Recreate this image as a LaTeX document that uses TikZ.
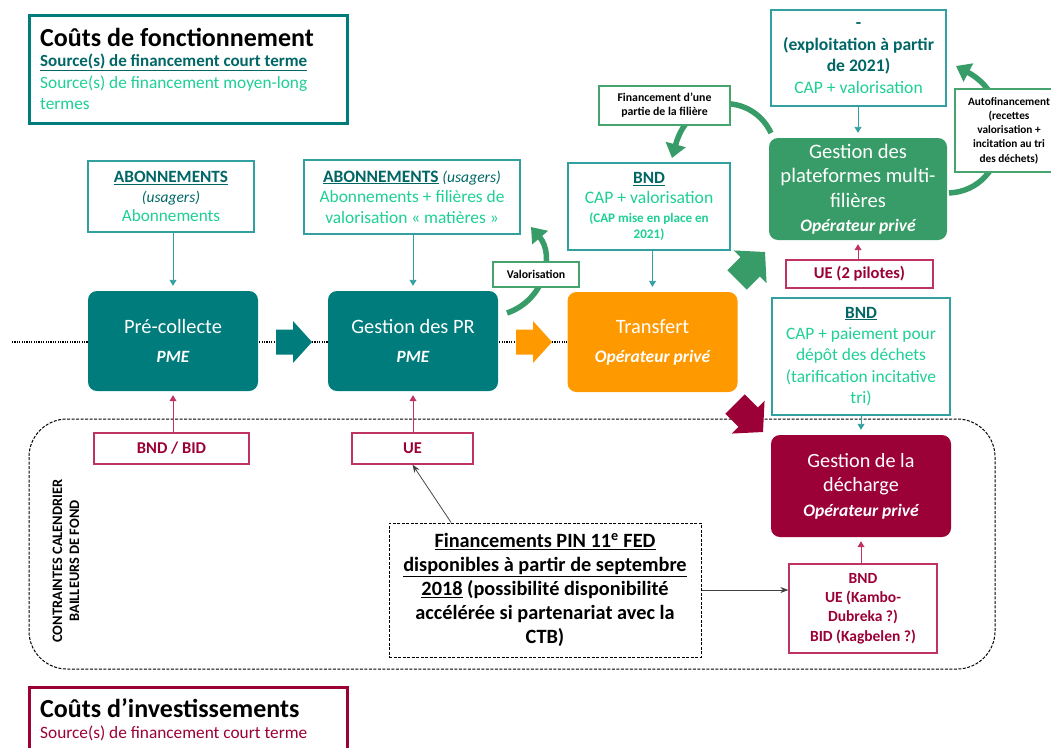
\documentclass[tikz,border=0pt]{standalone}
\usepackage{fontspec}
\setmainfont{Carlito}
\usetikzlibrary{arrows.meta,calc}
\definecolor{tealfill}{RGB}{0,124,124}
\definecolor{tealdark}{RGB}{0,102,102}
\definecolor{tealline}{RGB}{50,160,160}
\definecolor{lgreen}{RGB}{30,208,150}
\definecolor{gfill}{RGB}{56,156,104}
\definecolor{gline}{RGB}{70,165,110}
\definecolor{crim}{RGB}{155,0,55}
\definecolor{crimline}{RGB}{190,50,100}
\definecolor{orng}{RGB}{255,153,0}
\newcommand\fs[2]{\fontsize{#1}{#2}\selectfont}
\newcommand\blockarrow[5]{\fill[#4, shift={(#1,#2)}, rotate=#3, scale=#5] (-18,-12.5) -- (-1,-12.5) -- (-1,-21) -- (18,0) -- (-1,21) -- (-1,12.5) -- (-18,12.5) -- cycle;}
\begin{document}
\begin{tikzpicture}[x=1pt,y=-1pt,
  srcbox/.style={draw=tealline, line width=1.3pt, fill=white, align=center, inner sep=0pt},
  crbox/.style={draw=crimline, line width=1.3pt, fill=white, align=center, inner sep=0pt, text=crim, font=\bfseries\fs{16.5}{19}},
  lblbox/.style={draw=gline, line width=1.3pt, fill=white, align=center, inner sep=0pt, font=\bfseries\fs{11.8}{14}},
  proc/.style={rounded corners=9pt, align=center, text=white, inner sep=0pt, minimum width=170pt, minimum height=100pt},
  tarrow/.style={draw=tealline, line width=0.9pt, -{Triangle[length=6pt,width=7pt]}, shorten >=5pt},
  carrow/.style={draw=crimline, line width=0.9pt, -{Triangle[length=6pt,width=7pt]}, shorten >=4pt},
  karrow/.style={draw=black!75, line width=0.8pt, -{Stealth[length=8pt,width=6pt]}},
  garrow/.style={draw=gfill, line width=5.5pt, -{Triangle[length=14pt,width=20pt]}},
  dashbox/.style={draw=black, line width=1pt, dash pattern=on 3pt off 1.5pt}
]
\useasboundingbox (0,0) rectangle (1051,747);
\clip (0,0) rectangle (1051,747);
\fill[white] (0,0) rectangle (1051,747);

% dotted flow line and dashed region
\draw[line width=1.5pt, dash pattern=on 1.2pt off 1.2pt] (12,342) -- (567,342);
\draw[dashbox, rounded corners=38pt] (29,419) rectangle (995,669);

% legends
\node[draw=tealfill, line width=3pt, minimum width=318pt, minimum height=108pt, anchor=north west, inner sep=0pt] (leg1) at (28,14) {};
\node[anchor=west, inner sep=0pt, font=\bfseries\fs{26}{28}] (leg1a) at (40,37) {Coûts de fonctionnement};
\node[anchor=west, inner sep=0pt, font=\bfseries\fs{17}{21}, text=tealdark] (leg1b) at (40,62) {\underline{Source(s) de financement court terme}};
\node[anchor=west, inner sep=0pt, font=\fs{17.3}{21}, text=lgreen] (leg1c) at (40,84) {Source(s) de financement moyen-long};
\node[anchor=west, inner sep=0pt, font=\fs{17.3}{21}, text=lgreen] (leg1d) at (40,104) {termes};

\node[draw=crim, line width=3pt, minimum width=318pt, minimum height=90pt, anchor=north west, inner sep=0pt] (leg2) at (28,686) {};
\node[anchor=west, inner sep=0pt, font=\bfseries\fs{26}{28}] (leg2a) at (40,708) {Coûts d’investissements};
\node[anchor=west, inner sep=0pt, font=\fs{17.3}{21}, text=crim] (leg2b) at (40,733) {Source(s) de financement court terme};

% curved green arrows (behind labels)
\coordinate (v0) at (507,313); \coordinate (v1) at (531,227);
\coordinate (f0) at (771,133); \coordinate (f1) at (672,158);
\coordinate (a0) at (949,193); \coordinate (a1) at (956,66);
\draw[garrow] (v0) .. controls (545,300) and (555,255) .. (v1);
\draw[garrow] (f0) .. controls (752,92) and (690,92) .. (f1);
\draw[garrow] (a0) .. controls (1010,190) and (1020,100) .. (a1);

% source boxes
\node[srcbox, minimum width=166pt, minimum height=71pt, font=\fs{17.2}{19.5}] (ab1) at (171,196.5)
  {{\bfseries\color{tealdark}\underline{ABONNEMENTS}}\\{\itshape\color{tealdark}\fs{15.5}{19.5}(usagers)}\\{\color{lgreen}Abonnements}};
\node[srcbox, minimum width=216pt, minimum height=74pt, font=\fs{17.4}{20.5}] (ab2) at (412,197)
  {{\bfseries\color{tealdark}\underline{ABONNEMENTS}} {\itshape\color{tealdark}\fs{15.6}{20.5}(usagers)}\\{\color{lgreen}Abonnements + filières de}\\{\color{lgreen}valorisation « matières »}};
\node[srcbox, minimum width=162pt, minimum height=87pt, font=\fs{17.2}{19.5}] (bndm) at (649,206.5)
  {{\bfseries\color{tealdark}\underline{BND}}\\{\color{lgreen}\fs{17.6}{19.5}CAP + valorisation}\\{\bfseries\color{lgreen}\fs{13.1}{19.5}(CAP mise en place en}\\[-4pt]{\bfseries\color{lgreen}\fs{13.1}{19.5}2021)}};
\node[srcbox, minimum width=175pt, minimum height=96pt, font=\fs{17.6}{21.5}] (top) at (858.5,58)
  {{\bfseries\color{tealdark}-}\\{\bfseries\color{tealdark}(exploitation à partir}\\{\bfseries\color{tealdark}de 2021)}\\{\color{lgreen}CAP + valorisation}};
\node[srcbox, minimum width=178pt, minimum height=117pt, font=\fs{17.4}{21.3}, text=lgreen] (bndr) at (861,356.5)
  {{\bfseries\color{tealdark}\fs{17.2}{21.3}\underline{BND}}\\CAP + paiement pour\\dépôt des déchets\\(tarification incitative\\tri)};

% process boxes
\node[proc, fill=tealfill, font=\fs{20.4}{29}] (pc) at (173,341) {Pré-collecte\\{\bfseries\itshape\fs{17.2}{29}PME}};
\node[proc, fill=tealfill, font=\fs{20.4}{29}] (pr) at (413,341) {Gestion des PR\\{\bfseries\itshape\fs{17.2}{29}PME}};
\node[proc, fill=orng, font=\fs{20.4}{29}] (tr) at (652.5,342) {Transfert\\{\bfseries\itshape\fs{17.5}{29}Opérateur privé}};
\node[proc, fill=gfill, minimum width=178pt, minimum height=102pt, font=\fs{20.6}{24.5}] (gp) at (858,189)
  {Gestion des\\plateformes multi-\\filières\\{\bfseries\itshape\fs{17.5}{24.5}Opérateur privé}};
\node[proc, fill=crim, minimum width=180pt, minimum height=102pt, font=\fs{20.2}{24.5}] (gd) at (861,486)
  {Gestion de la\\décharge\\{\bfseries\itshape\fs{17.5}{22}Opérateur privé}};

% crimson source boxes
\node[crbox, minimum width=155pt, minimum height=31pt] (bb) at (171.5,448.5) {BND / BID};
\node[crbox, minimum width=121pt, minimum height=31pt] (ue1) at (412.5,448.5) {UE};
\node[crbox, minimum width=147pt, minimum height=28pt] (ue2) at (859.5,274) {UE (2 pilotes)};
\node[crbox, minimum width=148pt, minimum height=89pt, font=\bfseries\fs{15.5}{19.3}] (crb) at (863,608.5)
  {BND\\UE (Kambo-\\Dubreka ?)\\BID (Kagbelen ?)};

% label boxes
\node[lblbox, minimum width=86pt, minimum height=25pt] (lv) at (536,274.5) {Valorisation};
\node[lblbox, minimum width=131pt, minimum height=39pt] (lf) at (664.5,105.5) {Financement d’une\\partie de la filière};
\node[lblbox, minimum width=108pt, minimum height=83pt, font=\bfseries\fs{11.3}{14.2}] (la) at (1009,130.5)
  {Autofinancement\\(recettes\\valorisation +\\incitation au tri\\des déchets)};

% PIN box
\node[dashbox, fill=white, minimum width=312pt, minimum height=134pt, align=center, inner sep=0pt, font=\bfseries\fs{20.3}{24}] (fin) at (545,590)
  {\underline{Financements PIN 11\textsuperscript{e} FED}\\\underline{disponibles à partir de septembre}\\\underline{2018} (possibilité disponibilité\\accélérée si partenariat avec la\\CTB)};

\node[rotate=90, align=center, inner sep=0pt, font=\bfseries\fs{14.4}{17}] (cal) at (66,561) {CONTRAINTES CALENDRIER\\BAILLEURS DE FOND};

% block arrows
\blockarrow{294}{342}{0}{tealfill}{1}
\blockarrow{534}{342}{0}{orng}{1}
\blockarrow{751}{266}{45}{gfill}{1.1}
\blockarrow{749}{418}{-45}{crim}{1.1}

% thin arrows
\draw[tarrow] (ab1.south -| pc.north) -- (pc.north);
\draw[tarrow] (ab2.south -| pr.north) -- (pr.north);
\draw[tarrow] (tr.north |- bndm.south) -- (tr.north);
\draw[tarrow] (gp.north |- top.south) -- (gp.north);
\draw[tarrow] (bndr.south) -- (bndr.south |- gd.north);
\draw[carrow] (pc.south |- bb.north) -- (pc.south);
\draw[carrow] (pr.south |- ue1.north) -- (pr.south);
\draw[carrow] (gp.south |- ue2.north) -- (gp.south);
\draw[carrow] (gd.south |- crb.north) -- (gd.south);
\draw[karrow] ($(fin.north west)!0.2!(fin.north east)$) -- (ue1.south);
\draw[karrow] (fin.east) -- (fin.east -| crb.west);
\end{tikzpicture}
\end{document}
